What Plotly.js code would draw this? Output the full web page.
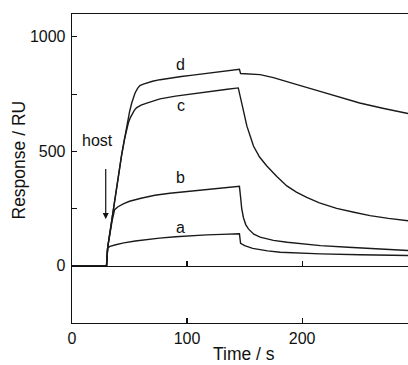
<!DOCTYPE html>
<html>
<head>
<meta charset="utf-8">
<script src="https://cdn.plot.ly/plotly-3.0.1.min.js"></script>
<style>html,body{margin:0;padding:0;background:#fff;overflow:hidden}#chart{width:408px;height:365px}</style>
</head>
<body>
<div id="chart"></div>
<script>
// Series a
const tA = [0,30,31,33,38,45,55,65,76,90,105,117,130,140,145.5,146.5,150,157,170,181,200,216,250,292];
const rA = [0,0,78,85,92,100,108,115,121,127,132,135,137,139,140,98,88,76,65,59,54,52,48,45];
// Series b
const tB = [0,30,31,33,35,37,40,45,50,60,72,85,100,115,130,140,145.5,146.5,147.5,149,151,153.3,158,163.5,175,187,200,216,240,259,292];
const rB = [0,0,80,150,200,245,258,272,282,295,308,317,325,333,340,344,347,300,250,210,180,161,138,125,111,103,97,88,81,77,67];
// Series c
const tC = [0,30,31,34,37,40,43,45.5,47.5,49,50.5,51.9,54,56,60,65,70,76.5,90,105.5,120,135,144.5,146,147.5,150,152,155,157.7,163,169.3,178,186.7,195,204,215,230,245,259,275,292];
const rC = [0,0,80,180,290,390,480,550,600,625,645,661,678,690,702,711,720,729,741,752,763,771,777,750,711,655,610,565,523,475,436,390,349,322,299,275,251,234,219,207,197];
// Series d
const tD = [0,30,31,34,37,40,43,45.5,47.5,50,51.9,53.3,54.8,57,59,62,65,70,76.5,85,95,105,120,135,143,145.5,146.5,150,155,163.5,175,186.7,200,215.6,232,250,270,292];
const rD = [0,0,80,180,290,390,480,550,610,672,711,737,755,775,787,794,799,806,813,820,827,833,842,850,856,858,840,839,838,835,822,806,785,762,737,711,688,665];
// Curve labels
const labelNames = ['a','b','c','d'];
const labelX = [94.5,94.5,94.5,94.5];
const labelY = [168,385,700,878];

const lineStyle = {color:'#1a1a1a', width:1.4};
const traces = [
  {x:tA, y:rA, mode:'lines', line:lineStyle, hoverinfo:'none'},
  {x:tB, y:rB, mode:'lines', line:lineStyle, hoverinfo:'none'},
  {x:tC, y:rC, mode:'lines', line:lineStyle, hoverinfo:'none'},
  {x:tD, y:rD, mode:'lines', line:lineStyle, hoverinfo:'none', xaxis:'x2'}
];

const fam = '"Liberation Sans", Arial, sans-serif';
const font = {family:fam, size:16, color:'#111'};
const titleFont = {family:fam, size:17.5, color:'#111'};
const annotations = labelNames.map((t,i)=>({
  x:labelX[i], y:labelY[i], xref:'x', yref:'y', text:t, showarrow:false, font:font
}));
annotations.push({x:22, y:548, xref:'x', yref:'y', text:'host', showarrow:false, font:font});
annotations.push({x:29.3, y:204, xref:'x', yref:'y', ax:29.3, ay:429, axref:'x', ayref:'y',
  text:'', showarrow:true, arrowhead:2, arrowsize:1, arrowwidth:1.2, arrowcolor:'#111'});
// axis titles
annotations.push({xref:'paper', yref:'paper', x:(244-72)/336, y:(323-354)/309, text:'Time / s',
  showarrow:false, font:titleFont, xanchor:'center', yanchor:'middle'});
annotations.push({xref:'paper', yref:'paper', x:(18.5-72)/336, y:(323-160)/309, text:'Response / RU',
  showarrow:false, font:titleFont, textangle:-90, xanchor:'center', yanchor:'middle'});

const yMin = -250, yMax = 1100;
const layout = {
  width:408, height:365,
  margin:{l:72, r:0, t:14, b:42},
  paper_bgcolor:'#fff', plot_bgcolor:'#fff',
  showlegend:false,
  font:font,
  xaxis:{
    range:[0,292], showgrid:false, zeroline:false,
    showline:true, linecolor:'#111', linewidth:1.3, mirror:true,
    ticks:'inside', ticklen:5, tickwidth:1.2, tickcolor:'#111',
    tickvals:[0,100,200], ticktext:['0','100','200'],
    tickfont:{family:fam, size:16, color:'#111'}
  },
  xaxis2:{
    range:[0,292], overlaying:'x', anchor:'free', position:(0 - yMin)/(yMax - yMin),
    showgrid:false, zeroline:false, showline:true, linecolor:'#111', linewidth:1.3,
    ticks:'inside', ticklen:5, tickwidth:1.2, tickcolor:'#111',
    tickvals:[100,200], showticklabels:false
  },
  yaxis:{
    range:[yMin,yMax], showgrid:false, zeroline:false,
    showline:true, linecolor:'#111', linewidth:1.3, mirror:false,
    ticks:'inside', ticklen:5, tickwidth:1.2, tickcolor:'#111',
    tickvals:[0,250,500,750,1000], ticktext:['0','','500','','1000'],
    tickfont:{family:fam, size:16, color:'#111'}, ticklabelstandoff:2
  },
  annotations:annotations
};
Plotly.newPlot('chart', traces, layout, {staticPlot:true, displayModeBar:false});
</script>
</body>
</html>
